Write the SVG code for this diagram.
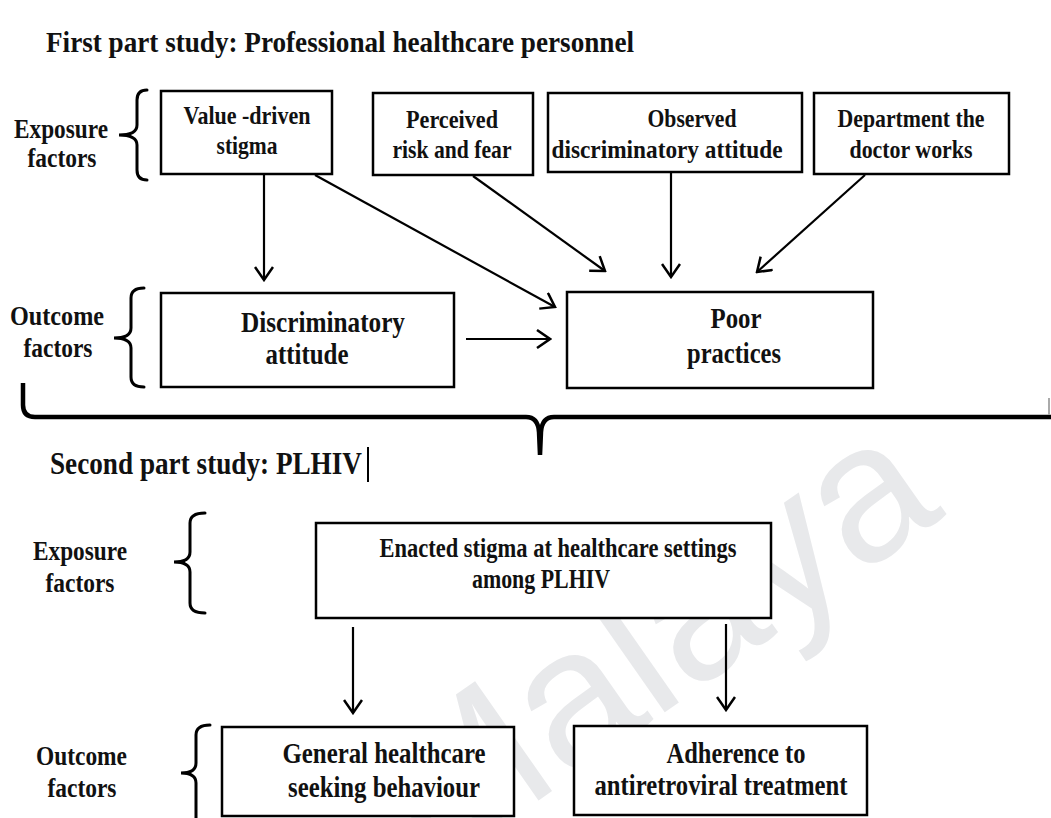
<svg xmlns="http://www.w3.org/2000/svg" width="1051" height="818" viewBox="0 0 1051 818">
<style>
.bg{fill:#fff}
.box{fill:#fff;stroke:#000;stroke-width:2.5}
.t{font-family:"Liberation Serif","Times New Roman",serif;font-weight:bold;fill:#111}
.m{text-anchor:middle}
.c{stroke:#000;stroke-width:2.2;fill:none}
.br{stroke:#000;stroke-width:3;fill:none;stroke-linecap:round}
.wm{font-family:"Liberation Sans",Arial,sans-serif;fill:#e8e9eb}
</style>
<defs>
<marker id="ah" markerWidth="16" markerHeight="20" refX="14" refY="10" orient="auto" markerUnits="userSpaceOnUse" viewBox="0 0 16 20">
<path d="M1,1 L14,10 L1,19" fill="none" stroke="#000" stroke-width="2.5"/>
</marker>
</defs>
<rect class="bg" x="0" y="0" width="1051" height="818"/>
<text class="wm" font-size="195" transform="translate(432,875) rotate(-35)">Malaya</text>

<text class="t" x="46" y="52" font-size="30" textLength="588" lengthAdjust="spacingAndGlyphs">First part study: Professional healthcare personnel</text>

<g id="labels1">
<text class="t" x="14" y="138" font-size="27" textLength="94" lengthAdjust="spacingAndGlyphs">Exposure</text>
<text class="t m" x="62" y="167" font-size="27" textLength="69" lengthAdjust="spacingAndGlyphs">factors</text>
<text class="t" x="10" y="325" font-size="27" textLength="94" lengthAdjust="spacingAndGlyphs">Outcome</text>
<text class="t m" x="58" y="357" font-size="27" textLength="69" lengthAdjust="spacingAndGlyphs">factors</text>
<path class="br" d="M147,90 Q137,90 137,100 L137,125 Q137,135 119,135 Q137,135 137,145 L137,170 Q137,180 147,180"/>
<path class="br" d="M144,288 Q131,288 131,298 L131,328 Q131,338 114,338 Q131,338 131,348 L131,377 Q131,387 144,387"/>
</g>

<g id="n-value">
<rect class="box" x="161" y="91" width="171" height="83"/>
<text class="t m" x="247" y="124" font-size="26" textLength="127" lengthAdjust="spacingAndGlyphs">Value -driven</text>
<text class="t m" x="247" y="154" font-size="26" textLength="61" lengthAdjust="spacingAndGlyphs">stigma</text>
</g>
<g id="n-perceived">
<rect class="box" x="373" y="93" width="160" height="82"/>
<text class="t m" x="452" y="128" font-size="26" textLength="92" lengthAdjust="spacingAndGlyphs">Perceived</text>
<text class="t m" x="452" y="158" font-size="26" textLength="119" lengthAdjust="spacingAndGlyphs">risk and fear</text>
</g>
<g id="n-observed">
<rect class="box" x="548" y="93" width="254" height="79"/>
<text class="t m" x="692" y="127" font-size="26" textLength="89" lengthAdjust="spacingAndGlyphs">Observed</text>
<text class="t m" x="667" y="158" font-size="26" textLength="231" lengthAdjust="spacingAndGlyphs">discriminatory attitude</text>
</g>
<g id="n-department">
<rect class="box" x="814" y="93" width="195" height="81"/>
<text class="t m" x="911" y="127" font-size="26" textLength="147" lengthAdjust="spacingAndGlyphs">Department the</text>
<text class="t m" x="911" y="158" font-size="26" textLength="123" lengthAdjust="spacingAndGlyphs">doctor works</text>
</g>
<g id="n-discriminatory">
<rect class="box" x="161" y="293" width="293" height="94"/>
<text class="t m" x="323" y="332" font-size="30" textLength="164" lengthAdjust="spacingAndGlyphs">Discriminatory</text>
<text class="t m" x="307" y="364" font-size="30" textLength="83" lengthAdjust="spacingAndGlyphs">attitude</text>
</g>
<g id="n-poor">
<rect class="box" x="567" y="292" width="306" height="96"/>
<text class="t m" x="736" y="328" font-size="30" textLength="51" lengthAdjust="spacingAndGlyphs">Poor</text>
<text class="t m" x="734" y="363" font-size="30" textLength="94" lengthAdjust="spacingAndGlyphs">practices</text>
</g>

<g id="divider">
<path d="M23,383 L23,405 Q23,417 35,417 L526,417 Q538,417 539,432 L540,455 M540,455 L541,432 Q542,417 554,417 L1051,417" fill="none" stroke="#000" stroke-width="4.5"/>
<line x1="1049" y1="398" x2="1049" y2="415" stroke="#aaa" stroke-width="2"/>
</g>

<text class="t" x="50" y="474" font-size="31" textLength="312" lengthAdjust="spacingAndGlyphs">Second part study: PLHIV</text>
<line x1="368" y1="447" x2="368" y2="482" stroke="#000" stroke-width="2"/>

<g id="labels2">
<text class="t" x="33" y="560" font-size="27" textLength="94" lengthAdjust="spacingAndGlyphs">Exposure</text>
<text class="t m" x="80" y="592" font-size="27" textLength="69" lengthAdjust="spacingAndGlyphs">factors</text>
<text class="t" x="36" y="765" font-size="27" textLength="91" lengthAdjust="spacingAndGlyphs">Outcome</text>
<text class="t m" x="82" y="797" font-size="27" textLength="69" lengthAdjust="spacingAndGlyphs">factors</text>
<path class="br" d="M205,513 Q190,513 190,523 L190,552 Q190,562 174,562 Q190,562 190,572 L190,603 Q190,613 205,613"/>
<path class="br" d="M210,725 Q196,725 196,735 L196,763 Q196,773 181,773 Q196,773 196,783 L196,830"/>
</g>

<g id="n-enacted">
<rect class="box" x="316" y="523" width="455" height="95"/>
<text class="t m" x="558" y="557" font-size="27" textLength="357" lengthAdjust="spacingAndGlyphs">Enacted stigma at healthcare settings</text>
<text class="t m" x="541" y="588" font-size="27" textLength="138" lengthAdjust="spacingAndGlyphs">among PLHIV</text>
</g>
<g id="n-general">
<rect class="box" x="222" y="727" width="292" height="89"/>
<text class="t m" x="384" y="763" font-size="29" textLength="203" lengthAdjust="spacingAndGlyphs">General healthcare</text>
<text class="t m" x="384" y="797" font-size="29" textLength="192" lengthAdjust="spacingAndGlyphs">seeking behaviour</text>
</g>
<g id="n-adherence">
<rect class="box" x="574" y="726" width="293" height="89"/>
<text class="t m" x="736" y="763" font-size="29" textLength="139" lengthAdjust="spacingAndGlyphs">Adherence to</text>
<text class="t m" x="721" y="795" font-size="29" textLength="253" lengthAdjust="spacingAndGlyphs">antiretroviral treatment</text>
</g>

<g id="connectors">
<line class="c" x1="264" y1="175" x2="264" y2="280" marker-end="url(#ah)"/>
<line class="c" x1="315" y1="175" x2="555" y2="307" marker-end="url(#ah)"/>
<line class="c" x1="473" y1="176" x2="605" y2="271" marker-end="url(#ah)"/>
<line class="c" x1="671" y1="173" x2="671" y2="277" marker-end="url(#ah)"/>
<line class="c" x1="865" y1="175" x2="757" y2="272" marker-end="url(#ah)"/>
<line class="c" x1="466" y1="339" x2="550" y2="339" marker-end="url(#ah)"/>
<line class="c" x1="353" y1="627" x2="353" y2="713" marker-end="url(#ah)"/>
<line class="c" x1="726" y1="624" x2="726" y2="710" marker-end="url(#ah)"/>
</g>
</svg>
